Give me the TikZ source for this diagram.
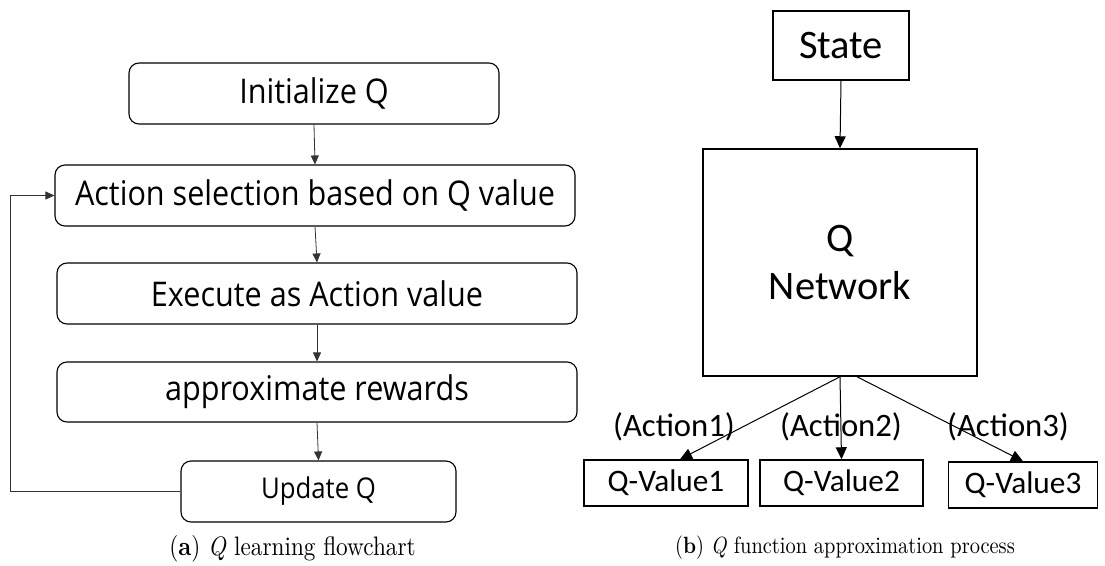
\documentclass[tikz,border=0pt]{standalone}
\usepackage{fontspec}
\setmainfont{lmroman10-regular}[Extension=.otf, BoldFont=lmroman10-bold, ItalicFont=lmroman10-italic, FakeStretch=0.87]
\newfontfamily\lfont[FakeStretch=0.9]{Open Sans}
\newfontfamily\rfont{Carlito}
\usetikzlibrary{arrows.meta,calc}
\begin{document}
\begin{tikzpicture}[x=1pt,y=-1pt,
  rbox/.style={draw, rounded corners=10pt, line width=1.1pt, inner sep=0pt,
    font=\lfont\fontsize{34}{40}\selectfont},
  sbox/.style={draw, line width=1.5pt, inner sep=0pt,
    font=\rfont\fontsize{40.5}{48}\selectfont},
  vbox/.style={draw, line width=1.5pt, inner sep=0pt,
    font=\rfont\fontsize{31.3}{36}\selectfont},
  alabel/.style={inner sep=0pt, font=\rfont\fontsize{32.7}{38}\selectfont},
  larr/.style={-{Triangle[length=9pt,width=8pt]}, line width=0.8pt, draw=black!80},
  rarr/.style={-{Triangle[length=12pt,width=11pt]}, line width=1pt},
  captext/.style={inner sep=0pt}]
\useasboundingbox (0,0) rectangle (1105,565);

% left panel
\node[rbox, minimum width=370pt, minimum height=61pt] (init) at (314,93.5) {Initialize Q};
\node[rbox, minimum width=520pt, minimum height=61pt] (act) at (315,195.5) {Action selection based on Q value};
\node[rbox, minimum width=520pt, minimum height=61pt] (exe) at (317,293.5) {Execute as Action value};
\node[rbox, minimum width=520pt, minimum height=60pt] (apx) at (317,392) {approximate rewards};
\node[rbox, minimum width=275pt, minimum height=61pt, font=\lfont\fontsize{28.6}{34}\selectfont] (upd) at (318.5,491.5) {Update Q};
\coordinate (fb) at (10,491.5);

\draw[larr] (init.south) -- (act.north);
\draw[larr] (act.south) -- (exe.north);
\draw[larr] (exe.south) -- (apx.north);
\draw[larr] (apx.south) -- (upd.north);
\draw[larr] (upd.west) -- (fb) |- (act.west);

\node[captext, font=\fontsize{26.7}{30}\selectfont] (capa) at (292.5,549) {(\textbf{a}) \textit{Q} learning flowchart};

% right panel
\node[sbox, minimum width=136pt, minimum height=69pt] (state) at (841,45.5) {State};
\node[sbox, minimum width=274pt, minimum height=227pt, align=center] (qn) at (840,262.5) {Q\\[0pt]Network};
\node[vbox, minimum width=164pt, minimum height=46pt] (qv1) at (666,483) {Q-Value1};
\node[vbox, minimum width=163pt, minimum height=46pt] (qv2) at (841.5,483) {Q-Value2};
\node[vbox, minimum width=149pt, minimum height=46pt] (qv3) at (1023,485) {Q-Value3};

\draw[rarr] (state.south) -- (qn.north);
\draw[rarr] (qn.south) -- ($(qv1.north)+(14,0)$);
\draw[rarr] (qn.south) -- (qv2.north);
\draw[rarr] ($(qn.south)+(17,0)$) -- (qv3.north);

\node[alabel] (a1) at (674,427) {(Action1)};
\node[alabel] (a2) at (841,427) {(Action2)};
\node[alabel] (a3) at (1008,427) {(Action3)};

\node[captext, font=\fontsize{23.5}{27}\selectfont] (capb) at (845,548) {(\textbf{b}) \textit{Q} function approximation process};
\end{tikzpicture}
\end{document}
